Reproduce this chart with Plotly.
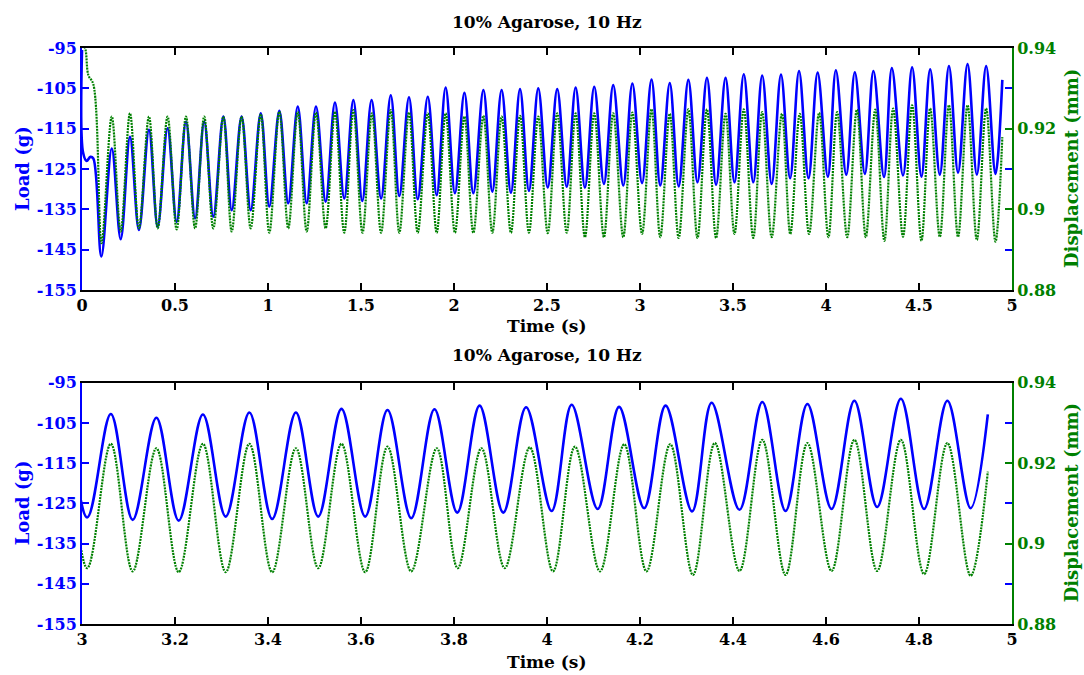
import plotly.graph_objects as go

load_time = [0.000, 0.006, 0.025, 0.045, 0.061, 0.104,
             0.160, 0.208, 0.258, 0.306, 0.360, 0.407, 0.460, 0.509, 0.559, 0.608,
             0.657, 0.706, 0.760, 0.805, 0.858, 0.907, 0.961, 1.007, 1.061, 1.109,
             1.160, 1.208, 1.258, 1.310, 1.360, 1.410, 1.459, 1.507, 1.557, 1.608,
             1.660, 1.706, 1.758, 1.805, 1.859, 1.907, 1.955, 2.005, 2.056, 2.104,
             2.158, 2.206, 2.256, 2.306, 2.355, 2.403, 2.453, 2.504, 2.555, 2.606,
             2.654, 2.704, 2.754, 2.806, 2.856, 2.910, 2.959, 3.011, 3.062, 3.109,
             3.160, 3.208, 3.260, 3.309, 3.360, 3.409, 3.460, 3.508, 3.558, 3.609,
             3.657, 3.708, 3.758, 3.807, 3.855, 3.906, 3.955, 4.010, 4.053, 4.109,
             4.155, 4.209, 4.255, 4.312, 4.354, 4.414, 4.463, 4.513, 4.560, 4.612,
             4.661, 4.710, 4.761, 4.811, 4.861, 4.911, 4.948]
load_g = [-95.5, -121.0, -123.0, -122.0, -122.4, -146.7,
          -119.9, -142.4, -117.0, -140.1, -115.3, -139.3, -114.9, -138.1, -113.3, -137.2,
          -113.3, -136.8, -112.0, -135.2, -112.0, -135.2, -111.2, -134.3, -110.6, -133.5,
          -109.5, -133.5, -109.5, -133.1, -108.5, -132.3, -107.9, -132.9, -107.9, -132.3,
          -106.7, -131.7, -107.2, -132.5, -107.1, -131.5, -104.8, -131.0, -106.1, -131.0,
          -105.4, -130.6, -105.4, -130.9, -105.2, -130.4, -105.0, -129.6, -105.2, -129.4,
          -104.8, -129.6, -104.6, -128.7, -104.2, -129.1, -103.8, -128.5, -102.8, -129.1,
          -103.7, -129.3, -102.9, -128.3, -102.4, -128.9, -102.4, -128.3, -101.5, -128.3,
          -101.8, -128.7, -101.6, -127.3, -100.7, -127.3, -101.1, -126.9, -100.5, -126.4,
          -101.0, -126.2, -100.7, -127.0, -100.0, -126.6, -99.8, -126.9, -100.3, -126.4,
          -99.5, -125.9, -99.0, -126.4, -99.5, -126.2, -102.9]

disp_time = [0.000, 0.016, 0.034, 0.061, 0.105,
             0.160, 0.208, 0.258, 0.306, 0.360, 0.407, 0.460, 0.509, 0.559, 0.608,
             0.657, 0.706, 0.760, 0.805, 0.858, 0.907, 0.961, 1.007, 1.061, 1.109,
             1.160, 1.208, 1.258, 1.310, 1.360, 1.410, 1.459, 1.508, 1.559, 1.608,
             1.660, 1.706, 1.758, 1.805, 1.859, 1.907, 1.955, 2.005, 2.056, 2.104,
             2.158, 2.206, 2.256, 2.306, 2.355, 2.403, 2.453, 2.504, 2.555, 2.606,
             2.654, 2.704, 2.754, 2.806, 2.856, 2.910, 2.959, 3.011, 3.062, 3.109,
             3.160, 3.208, 3.260, 3.309, 3.360, 3.409, 3.460, 3.508, 3.558, 3.609,
             3.657, 3.708, 3.763, 3.808, 3.859, 3.909, 3.963, 4.013, 4.060, 4.114,
             4.166, 4.214, 4.265, 4.314, 4.361, 4.414, 4.463, 4.513, 4.560, 4.612,
             4.661, 4.710, 4.761, 4.811, 4.861, 4.911, 4.948]
disp_mm = [0.9408, 0.9400, 0.9333, 0.9310, 0.8916,
           0.9230, 0.8945, 0.9238, 0.8953, 0.9230, 0.8953, 0.9230, 0.8950, 0.9230, 0.8953,
           0.9230, 0.8953, 0.9230, 0.8945, 0.9230, 0.8953, 0.9236, 0.8942, 0.9242, 0.8953,
           0.9242, 0.8945, 0.9240, 0.8953, 0.9242, 0.8942, 0.9246, 0.8942, 0.9238, 0.8942,
           0.9246, 0.8942, 0.9240, 0.8942, 0.9238, 0.8942, 0.9238, 0.8942, 0.9230, 0.8942,
           0.9232, 0.8942, 0.9230, 0.8942, 0.9232, 0.8942, 0.9230, 0.8941, 0.9238, 0.8942,
           0.9238, 0.8931, 0.9238, 0.8931, 0.9238, 0.8931, 0.9240, 0.8939, 0.9248, 0.8931,
           0.9237, 0.8929, 0.9248, 0.8929, 0.9248, 0.8929, 0.9237, 0.8939, 0.9248, 0.8929,
           0.9241, 0.8931, 0.9237, 0.8939, 0.9237, 0.8939, 0.9239, 0.8931, 0.9241, 0.8931,
           0.9247, 0.8931, 0.9247, 0.8922, 0.9250, 0.8932, 0.9258, 0.8922, 0.9250, 0.8932,
           0.9258, 0.8932, 0.9258, 0.8924, 0.9250, 0.8920, 0.9179]

title_text = "10% Agarose, 10 Hz"
x_title = "Time (s)"
load_title = "Load (g)"
disp_title = "Displacement (mm)"
load_ticks = [-155, -145, -135, -125, -115, -105, -95]
disp_ticks = [0.88, 0.90, 0.92, 0.94]
disp_ticklabels = ["0.88", "0.9", "0.92", "0.94"]
top_xticks = [0, 0.5, 1, 1.5, 2, 2.5, 3, 3.5, 4, 4.5, 5]
top_xlabels = ["0", "0.5", "1", "1.5", "2", "2.5", "3", "3.5", "4", "4.5", "5"]
bot_xticks = [3, 3.2, 3.4, 3.6, 3.8, 4, 4.2, 4.4, 4.6, 4.8, 5]
bot_xlabels = ["3", "3.2", "3.4", "3.6", "3.8", "4", "4.2", "4.4", "4.6", "4.8", "5"]

BLUE = "#0000FF"
GREEN = "#008000"
FONT = "DejaVu Serif"

fig = go.Figure()
for xa, ya, ya2 in [("x", "y", "y2"), ("x2", "y3", "y4")]:
    fig.add_trace(go.Scatter(x=load_time, y=load_g, mode="lines", xaxis=xa, yaxis=ya,
                             line=dict(color=BLUE, width=2.6, shape="spline", smoothing=1.0),
                             showlegend=False, hoverinfo="skip"))
    fig.add_trace(go.Scatter(x=disp_time, y=disp_mm, mode="lines", xaxis=xa, yaxis=ya2,
                             line=dict(color=GREEN, width=2.2, dash="2px,1px",
                                       shape="spline", smoothing=1.0),
                             showlegend=False, hoverinfo="skip"))

tickfont_k = dict(family=FONT, size=16, color="black", weight="bold")
tickfont_b = dict(family=FONT, size=16, color=BLUE, weight="bold")
tickfont_g = dict(family=FONT, size=16, color=GREEN, weight="bold")

def xaxis_cfg(domain_anchor, rng, tv, tt):
    return dict(range=rng, tickvals=tv, ticktext=tt, ticks="inside", ticklen=7,
                tickwidth=2, tickcolor="black", showline=True, linecolor="black",
                linewidth=2, mirror="ticks", showgrid=False, zeroline=False,
                tickfont=tickfont_k, anchor=domain_anchor)

def yaxis_cfg(domain):
    return dict(domain=domain, range=[-155, -95], tickvals=load_ticks,
                ticktext=[str(v) for v in load_ticks], ticks="inside", ticklen=7,
                tickwidth=2, tickcolor=BLUE, showline=True, linecolor=BLUE,
                linewidth=2, mirror="ticks", showgrid=False, zeroline=False,
                tickfont=tickfont_b)

def y2axis_cfg(over, anchor):
    return dict(overlaying=over, anchor=anchor, side="right", range=[0.88, 0.94],
                tickvals=disp_ticks, ticktext=disp_ticklabels, ticks="inside",
                ticklen=7, tickwidth=2, tickcolor=GREEN, showline=True,
                linecolor=GREEN, linewidth=2, showgrid=False, zeroline=False,
                tickfont=tickfont_g)

L, R, T, B = 82, 72, 48, 51
W, H = 1084, 675
ph = H - T - B
pw = W - L - R

def py(p):
    return (H - B - p) / ph

def px(p):
    return (p - L) / pw

top_dom = [py(290), 1.0]
bot_dom = [0.0, py(382.7)]

fig.update_layout(
    width=W, height=H,
    margin=dict(l=L, r=R, t=T, b=B),
    paper_bgcolor="white", plot_bgcolor="white",
    xaxis=xaxis_cfg("y", [0, 5], top_xticks, top_xlabels),
    xaxis2=xaxis_cfg("y3", [3, 5], bot_xticks, bot_xlabels),
    yaxis=yaxis_cfg(top_dom),
    yaxis2=y2axis_cfg("y", "x"),
    yaxis3=yaxis_cfg(bot_dom),
    yaxis4=y2axis_cfg("y3", "x2"),
)
fig.update_layout(yaxis=dict(anchor="x"), yaxis3=dict(anchor="x2"))

ann = []
for ytitle, yx, ymid in [(22, 326, (48 + 290) / 2), (355, 662, (382.7 + 624) / 2)]:
    ann.append(dict(text=title_text, x=px(547), y=py(ytitle), xref="paper", yref="paper",
                    showarrow=False, xanchor="center", yanchor="middle",
                    font=dict(family=FONT, size=17, color="black", weight="bold")))
    ann.append(dict(text=x_title, x=px(547), y=py(yx), xref="paper", yref="paper",
                    showarrow=False, xanchor="center", yanchor="middle",
                    font=dict(family=FONT, size=17, color="black", weight="bold")))
    ann.append(dict(text=load_title, x=px(22), y=py(ymid), xref="paper", yref="paper",
                    showarrow=False, xanchor="center", yanchor="middle", textangle=-90,
                    font=dict(family=FONT, size=18, color=BLUE, weight="bold")))
    ann.append(dict(text=disp_title, x=px(1071), y=py(ymid), xref="paper", yref="paper",
                    showarrow=False, xanchor="center", yanchor="middle", textangle=-90,
                    font=dict(family=FONT, size=18, color=GREEN, weight="bold")))
fig.update_layout(annotations=ann)

fig.write_html("out.html")
